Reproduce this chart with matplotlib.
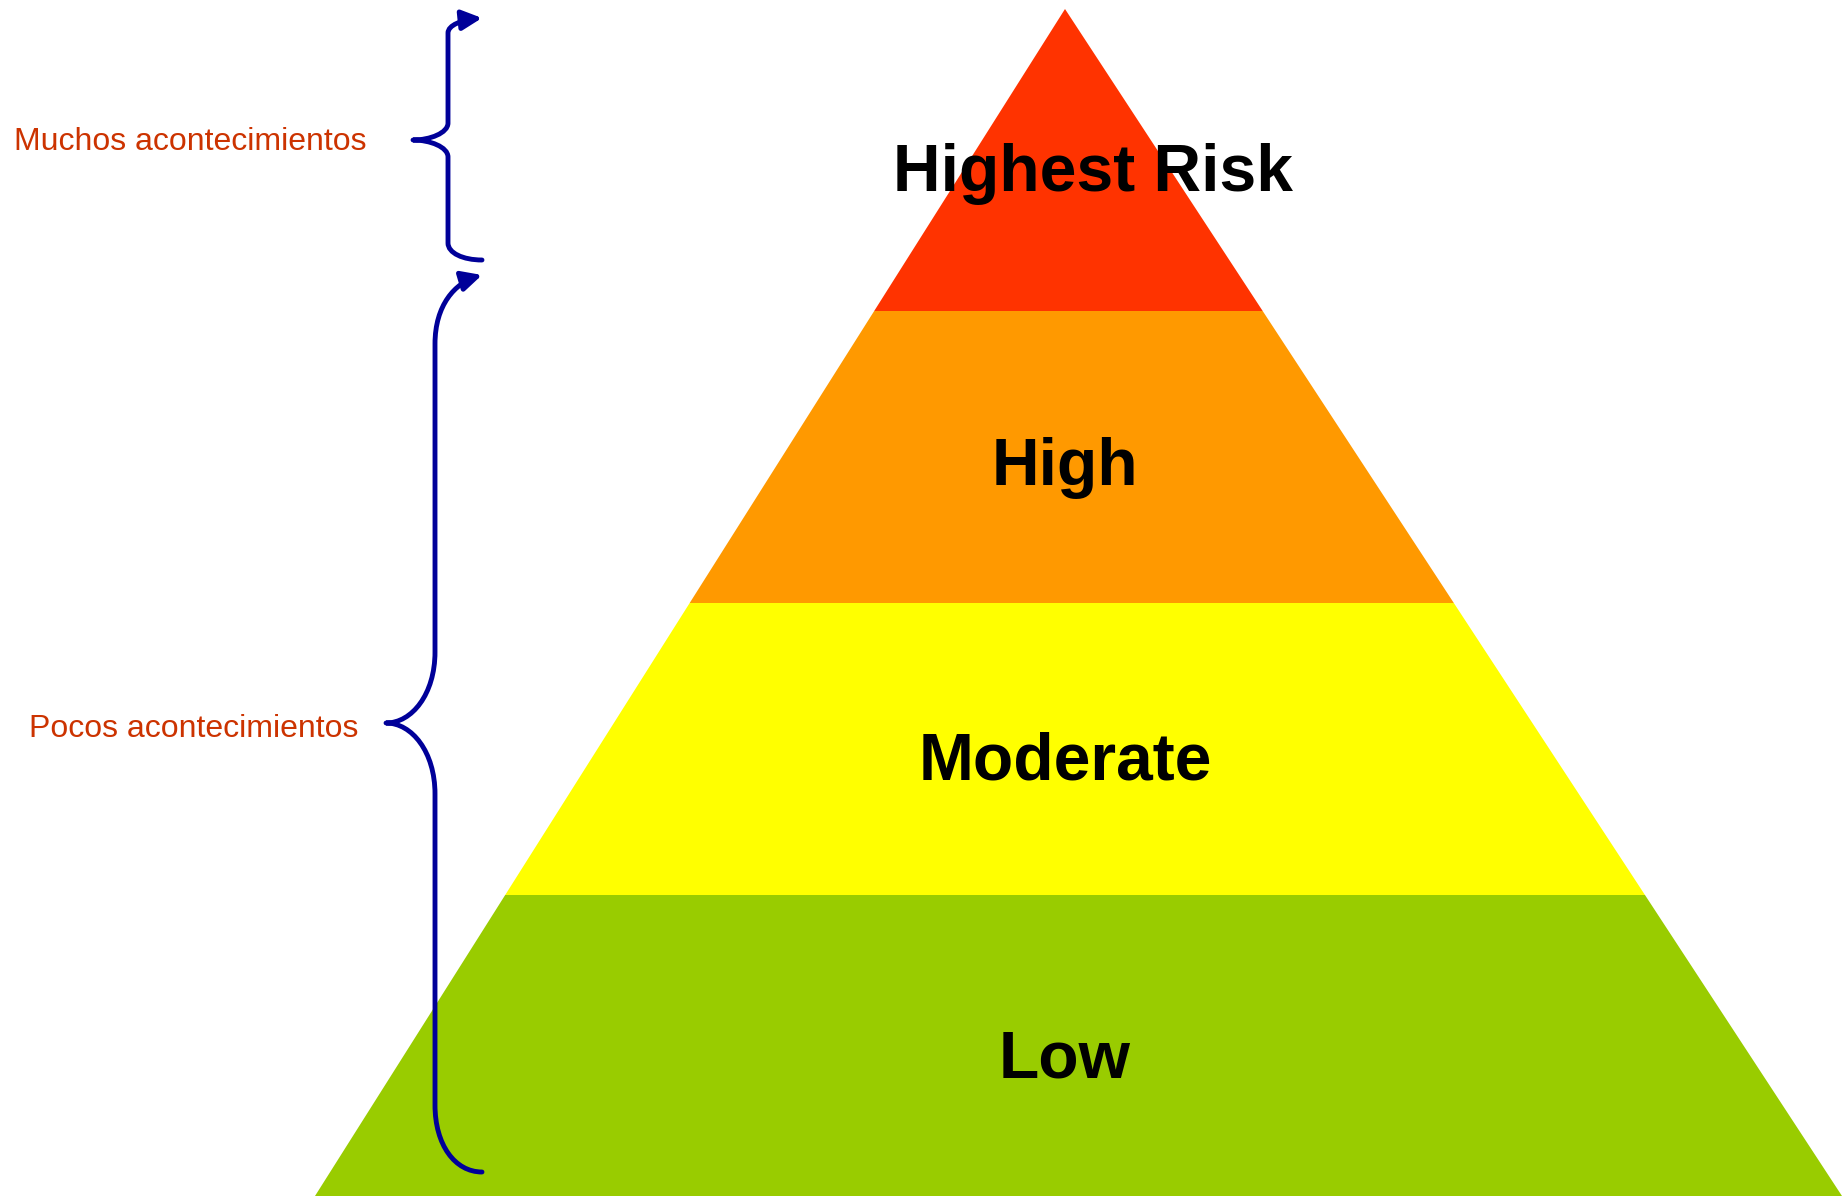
import matplotlib.pyplot as plt
from matplotlib.path import Path
from matplotlib.patches import Polygon, FancyArrowPatch

# pyramid levels, top to bottom
levels = ["Highest Risk", "High", "Moderate", "Low"]
level_colors = ["#FF3300", "#FF9900", "#FFFF00", "#99CC00"]
level_edges = [9, 311, 603, 895, 1196]          # band boundaries (pixel rows)
label_x = [1093, 1065, 1065, 1065]
label_baseline = [191, 485, 779, 1077]

# side annotations
side_labels = ["Muchos acontecimientos", "Pocos acontecimientos"]
side_label_pos = [(14, 150), (29, 737)]

apex = (1065, 9)
base_left, base_right, base_y = 315, 1842, 1196

W, H = 1842, 1196
fig = plt.figure(figsize=(W / 100, H / 100), dpi=100)
ax = fig.add_axes([0, 0, 1, 1])
ax.set_xlim(0, W)
ax.set_ylim(H, 0)
ax.axis("off")


def edge_x(y, bx):
    t = (y - apex[1]) / (base_y - apex[1])
    return apex[0] + (bx - apex[0]) * t


for i, (name, col) in enumerate(zip(levels, level_colors)):
    y0, y1 = level_edges[i], level_edges[i + 1]
    pts = [(edge_x(y0, base_left), y0), (edge_x(y0, base_right), y0),
           (edge_x(y1, base_right), y1), (edge_x(y1, base_left), y1)]
    ax.add_patch(Polygon(pts, closed=True, facecolor=col, edgecolor="none", zorder=1))
    ax.text(label_x[i], label_baseline[i], name, ha="center", va="baseline",
            fontsize=47.5, fontweight="bold", family="Liberation Sans", zorder=3)

for txt, (x, y) in zip(side_labels, side_label_pos):
    ax.text(x, y, txt, ha="left", va="baseline", fontsize=23,
            family="Liberation Sans", color="#CC3300")

# braces with arrow at the top end
M, L, C = Path.MOVETO, Path.LINETO, Path.CURVE4
brace1 = Path(
    [(482, 260), (463, 260), (448, 253), (448, 243),
     (448, 157),
     (448, 147), (430, 140), (413, 140),
     (430, 140), (448, 133), (448, 123),
     (448, 33),
     (448, 25), (462, 20), (482, 18)],
    [M, C, C, C, L, C, C, C, C, C, C, L, C, C, C])
brace2 = Path(
    [(482, 1172), (455, 1172), (435, 1145), (435, 1105),
     (435, 794),
     (435, 752), (412, 723), (386, 723),
     (412, 723), (435, 694), (435, 652),
     (435, 344),
     (435, 305), (455, 283), (482, 275)],
    [M, C, C, C, L, C, C, C, C, C, C, L, C, C, C])

for p in (brace1, brace2):
    ax.add_patch(FancyArrowPatch(path=p, arrowstyle="-|>,head_length=12,head_width=6",
                                 color="#000099", lw=3.5, zorder=4))

fig.savefig("out.png", dpi=100)
